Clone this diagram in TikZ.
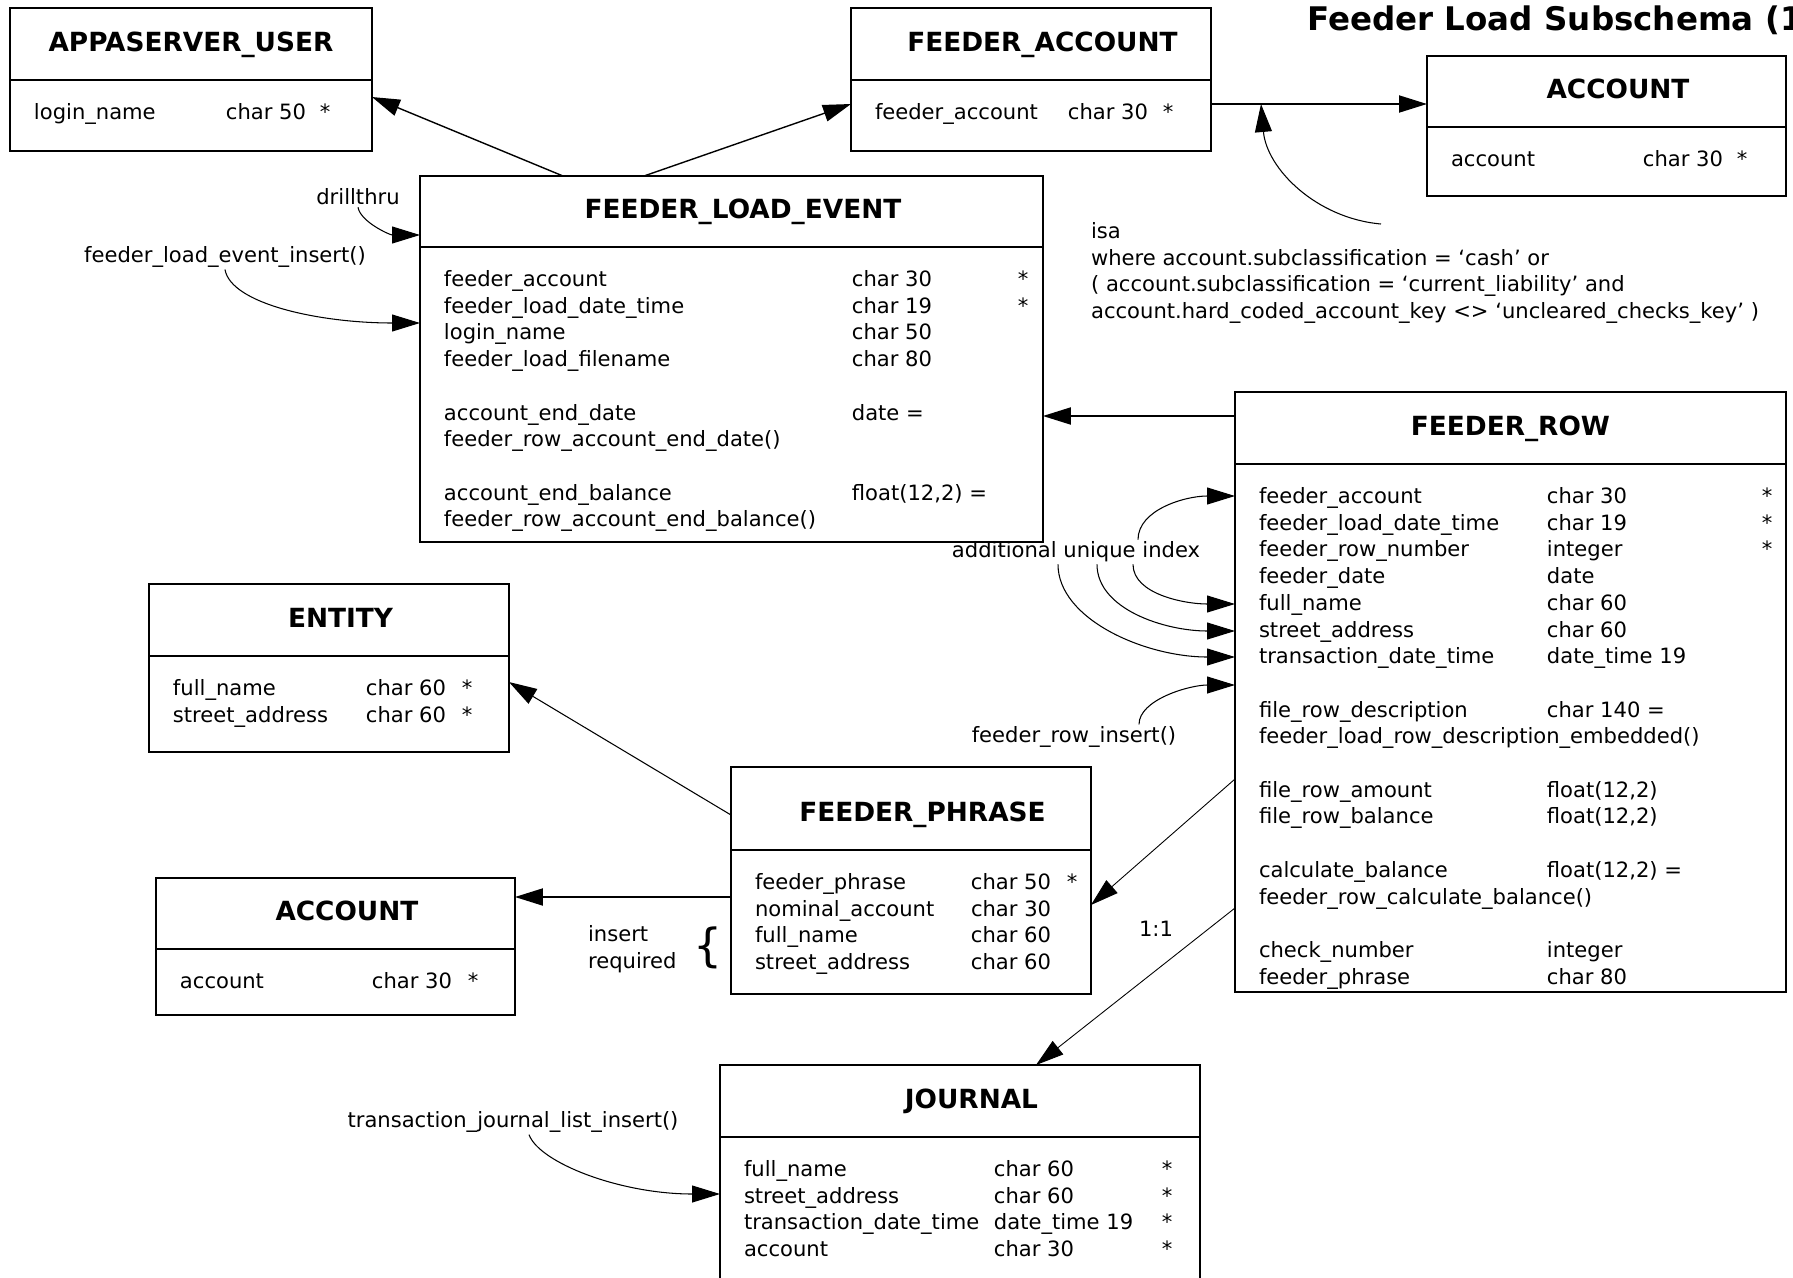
\documentclass[tikz,border=0pt]{standalone}
\usepackage{fontspec}
\setmainfont{DejaVu Sans}
\usepackage{tikz}
\usetikzlibrary{arrows.meta, positioning}
\setlength{\tabcolsep}{0pt}
\newcommand{\rowfont}{\fontsize{12}{15.2}\selectfont}
\newcommand{\colpad}{\hspace{0.48cm}}

\begin{document}
\begin{tikzpicture}[x=0.02cm, y=0.02cm,
    ehead/.style={draw, line width=1.1pt, anchor=north west, inner sep=0pt, outer sep=0pt,
      font=\fontsize{15}{18}\selectfont\bfseries, text height=11pt, text depth=3pt,
      execute at begin node={\hspace*{#1}}},
    ehead/.default=0.46cm,
    ebody/.style={draw, line width=1.1pt, inner sep=0pt, outer sep=0pt, font=\rowfont, text height=0.79cm},
    lbl/.style={font=\rowfont, inner sep=1pt},
    link/.style={-{Triangle[length=0.56cm, width=0.34cm]}, line width=0.6pt},
    thin link/.style={link, line width=0.5pt},
    bold link/.style={link, line width=1.1pt}]
  \useasboundingbox (0,0) rectangle (1793,-1278);

  \node[anchor=west, inner sep=0pt, font=\fontsize{18.5}{22}\selectfont\bfseries] (title) at (1307,-20) {Feeder Load Subschema (1};

  % top row of tables
  \node[ehead=0pt, minimum width=7.24cm, minimum height=1.44cm] (user) at (10,-8) {APPASERVER\_USER};
  \node[ebody, minimum width=7.24cm, text depth=0.63cm, below=0pt of user] (userb) {%
    \begin{tabular}[t]{@{\colpad}p{3.84cm}p{1.88cm}p{1.04cm}}
      login\_name & char 50 & *
    \end{tabular}};

  \node[ehead, minimum width=7.2cm, minimum height=1.44cm] (faccount) at (851,-8) {FEEDER\_ACCOUNT};
  \node[ebody, minimum width=7.2cm, text depth=0.63cm, below=0pt of faccount] (faccountb) {%
    \begin{tabular}[t]{@{\colpad}p{3.86cm}p{1.9cm}p{0.96cm}}
      feeder\_account & char 30 & *
    \end{tabular}};

  \node[ehead, minimum width=7.18cm, minimum height=1.42cm] (accounttop) at (1427,-56) {ACCOUNT};
  \node[ebody, minimum width=7.18cm, text depth=0.59cm, below=0pt of accounttop] (accounttopb) {%
    \begin{tabular}[t]{@{\colpad}p{3.84cm}p{1.88cm}p{0.98cm}}
      account & char 30 & *
    \end{tabular}};

  % load event and feeder row
  \node[ehead, minimum width=12.46cm, minimum height=1.42cm] (event) at (420,-176) {FEEDER\_LOAD\_EVENT};
  \node[ebody, minimum width=12.46cm, text depth=5.11cm, below=0pt of event] (eventb) {%
    \begin{tabular}[t]{@{\colpad}p{8.16cm}p{3.32cm}p{0.5cm}}
      feeder\_account & char 30 & * \\
      feeder\_load\_date\_time & char 19 & * \\
      login\_name & char 50 & \\
      feeder\_load\_filename & char 80 & \\
      \\
      account\_end\_date & date = & \\
      \multicolumn{3}{@{\colpad}l}{feeder\_row\_account\_end\_date()} \\
      \\
      account\_end\_balance & float(12,2) = & \\
      \multicolumn{3}{@{\colpad}l}{feeder\_row\_account\_end\_balance()}
    \end{tabular}};

  \node[ehead=0pt, minimum width=11.02cm, minimum height=1.44cm] (row) at (1235,-392) {FEEDER\_ROW};
  \node[ebody, minimum width=11.02cm, text depth=9.77cm, below=0pt of row] (rowb) {%
    \begin{tabular}[t]{@{\colpad}p{5.76cm}p{4.3cm}p{0.48cm}}
      feeder\_account & char 30 & * \\
      feeder\_load\_date\_time & char 19 & * \\
      feeder\_row\_number & integer & * \\
      feeder\_date & date & \\
      full\_name & char 60 & \\
      street\_address & char 60 & \\
      transaction\_date\_time & date\_time 19 & \\
      \\
      file\_row\_description & char 140 = & \\
      \multicolumn{3}{@{\colpad}l}{feeder\_load\_row\_description\_embedded()} \\
      \\
      file\_row\_amount & float(12,2) & \\
      file\_row\_balance & float(12,2) & \\
      \\
      calculate\_balance & float(12,2) = & \\
      \multicolumn{3}{@{\colpad}l}{feeder\_row\_calculate\_balance()} \\
      \\
      check\_number & integer & \\
      feeder\_phrase & char 80 &
    \end{tabular}};

  % left column and phrase
  \node[ehead, minimum width=7.2cm, minimum height=1.44cm] (entity) at (149,-584) {ENTITY};
  \node[ebody, minimum width=7.2cm, text depth=1.13cm, below=0pt of entity] (entityb) {%
    \begin{tabular}[t]{@{\colpad}p{3.86cm}p{1.92cm}p{0.94cm}}
      full\_name & char 60 & * \\
      street\_address & char 60 & *
    \end{tabular}};

  \node[ehead, minimum width=7.18cm, minimum height=1.42cm] (account) at (156,-878) {ACCOUNT};
  \node[ebody, minimum width=7.18cm, text depth=0.53cm, below=0pt of account] (accountb) {%
    \begin{tabular}[t]{@{\colpad}p{3.84cm}p{1.92cm}p{0.94cm}}
      account & char 30 & *
    \end{tabular}};

  \node[ehead, minimum width=7.2cm, minimum height=1.66cm, text height=14.7pt, text depth=0pt] (phrase) at (731,-767) {FEEDER\_PHRASE};
  \node[ebody, minimum width=7.2cm, text depth=2.09cm, below=0pt of phrase] (phraseb) {%
    \begin{tabular}[t]{@{\colpad}p{4.32cm}p{1.92cm}p{0.48cm}}
      feeder\_phrase & char 50 & * \\
      nominal\_account & char 30 & \\
      full\_name & char 60 & \\
      street\_address & char 60 &
    \end{tabular}};

  \node[ehead, minimum width=9.6cm, minimum height=1.44cm] (journal) at (720,-1065) {JOURNAL};
  \node[ebody, minimum width=9.6cm, text depth=2.5cm, below=0pt of journal] (journalb) {%
    \begin{tabular}[t]{@{\colpad}p{5cm}p{3.36cm}p{0.76cm}}
      full\_name & char 60 & * \\
      street\_address & char 60 & * \\
      transaction\_date\_time & date\_time 19 & * \\
      account & char 30 & *
    \end{tabular}};

  % labels
  \node[lbl] (drill) at (358,-197) {drillthru};
  \node[lbl] (evins) at (225,-257) {feeder\_load\_event\_insert()};
  \node[lbl, anchor=west, align=left] (isa) at (1089,-273) {isa\\
    where account.subclassification = ‘cash’ or\\
    ( account.subclassification = ‘current\_liability’ and\\
    account.hard\_coded\_account\_key <> ‘uncleared\_checks\_key’ )};
  \node[lbl] (uniq) at (1076,-552) {additional unique index};
  \node[lbl] (rowins) at (1074,-737) {feeder\_row\_insert()};
  \node[lbl] (ratio) at (1156,-929) {1:1};
  \node[lbl, anchor=west, align=left] (insreq) at (586,-949) {insert\\required};
  \node[inner sep=0pt, font=\fontsize{26}{26}\selectfont] (brace) at (708,-948) {\{};
  \node[lbl] (jins) at (513,-1122) {transaction\_journal\_list\_insert()};
  \coordinate (isafoot) at (1381,-224);
  \coordinate (isatip) at (1261,-104);

  % foreign keys
  \draw[link, line width=0.8pt] (event.north -| 563,0) -- (userb.east |- 0,-97);
  \draw[link, line width=0.8pt] (event.north -| 644,0) -- (faccountb.west |- 0,-104);
  \draw[bold link] (faccountb.east |- 0,-104) -- (accounttop.west |- 0,-104);
  \draw[bold link] (row.west |- 0,-416) -- (eventb.east |- 0,-416);
  \draw[thin link] (rowb.west |- 0,-779) -- (phraseb.east |- 0,-905);
  \draw[thin link] (rowb.west |- 0,-908) -- (journal.north -| 1036,0);
  \draw[link] (phrase.west |- 0,-815) -- (entityb.east |- 0,-682);
  \draw[bold link] (phraseb.west |- 0,-897) -- (account.east |- 0,-897);

  % notes
  \draw[link] (isafoot) to[out=175, in=-85, out distance=1.3cm, in distance=1.3cm] (isatip);
  \draw[link] (drill.south) to[out=-80, in=180, out distance=0.3cm, in distance=0.6cm] (event.west |- 0,-235);
  \draw[link] (evins.south) to[out=-80, in=180, out distance=0.7cm, in distance=2cm] (eventb.west |- 0,-323);
  \draw[link] (uniq.north -| 1138,0) to[out=90, in=180, out distance=0.6cm, in distance=1cm] (rowb.west |- 0,-496);
  \draw[link] (uniq.south -| 1133,0) to[out=-90, in=180, out distance=0.6cm, in distance=1cm] (rowb.west |- 0,-604);
  \draw[link] (uniq.south -| 1097,0) to[out=-90, in=180, out distance=0.9cm, in distance=1.4cm] (rowb.west |- 0,-631);
  \draw[link] (uniq.south -| 1058,0) to[out=-90, in=180, out distance=1.1cm, in distance=1.8cm] (rowb.west |- 0,-657);
  \draw[link] (rowins.north -| 1139,0) to[out=90, in=180, out distance=0.5cm, in distance=0.9cm] (rowb.west |- 0,-685);
  \draw[link] (jins.south -| 529,0) to[out=-70, in=180, out distance=0.6cm, in distance=2cm] (journalb.west |- 0,-1194);
\end{tikzpicture}
\end{document}
